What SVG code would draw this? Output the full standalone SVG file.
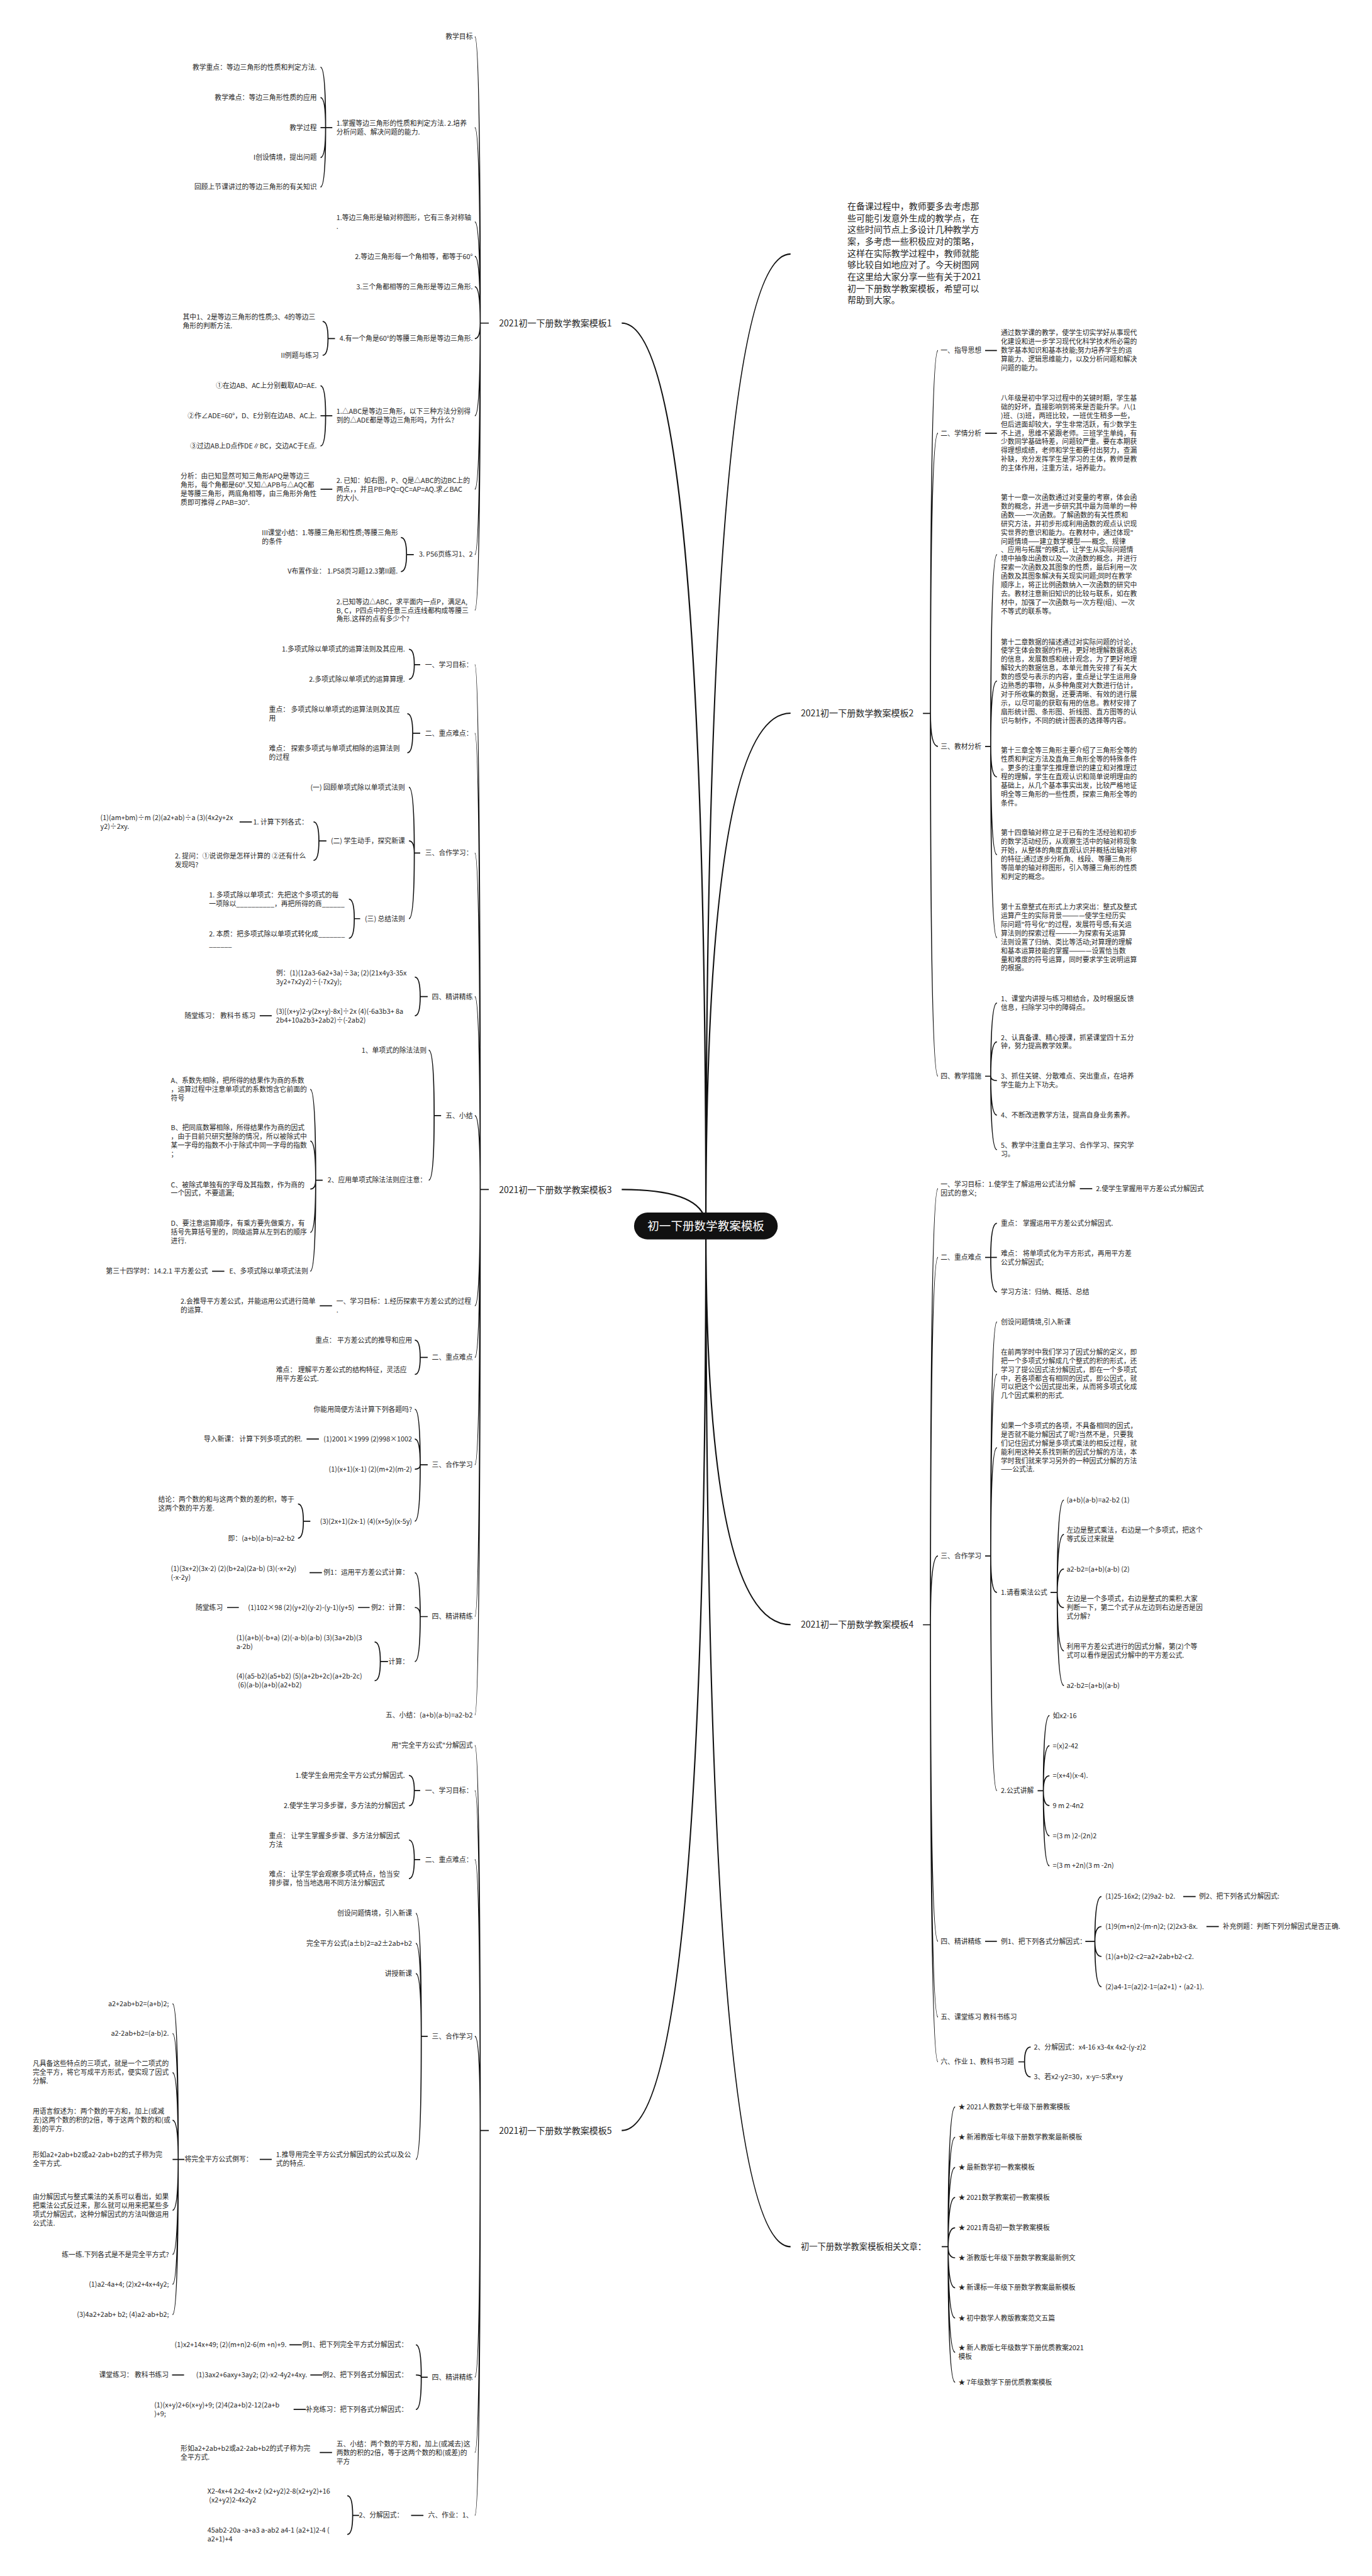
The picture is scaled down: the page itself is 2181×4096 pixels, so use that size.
<svg xmlns="http://www.w3.org/2000/svg" width="2181" height="4096" viewBox="0 0 2181 4096">
<style>
text{font-family:"Noto Sans CJK SC","Noto Sans",sans-serif;font-size:12.7px;fill:#262626}
.e{text-anchor:end}
.b{font-size:16.5px}
.i{font-size:16.4px}
.a{font-size:15.6px}
.c{font-size:21.8px;fill:#fff;text-anchor:middle}
#connectors path{fill:none;stroke:#111;stroke-width:2}
#connectors .r{stroke-width:2.6}
</style>
<rect width="2181" height="4096" fill="#fff"/>
<g transform="scale(0.852)">
<g id="connectors">
<path class="r" d="M1317 2288Q1317 474 1475 474M1317 2288Q1317 1331 1475 1331M1317 2288Q1317 3032 1475 3032M1317 2288Q1317 4193 1475 4193M1317 2288Q1317 603 1160 603M1317 2288Q1317 2220 1160 2220M1317 2288Q1317 3976 1160 3976"/>
<path d="M912 603H896M896 603Q896 68.5 886 68.5M896 603Q896 238 886 238M896 603Q896 414 886 414M896 603Q896 478.5 886 478.5M896 603Q896 535 886 535M896 603Q896 632 886 632M896 603Q896 776 886 776M896 603Q896 913 886 913M896 603Q896 1035 886 1035M896 603Q896 1139 886 1139"/>
<path d="M620 238H598M607.5 238Q607.5 125.5 598 125.5M607.5 238Q607.5 182 598 182M607.5 238Q607.5 294 598 294M607.5 238Q607.5 349 598 349"/>
<path d="M625 632H612M612 632Q612 600 602 600M612 632Q612 663 602 663"/>
<path d="M620 776H598M607.5 776Q607.5 720 598 720M607.5 776Q607.5 832.4 598 832.4"/>
<path d="M620 913H598"/>
<path d="M772 1035H758.5M758.5 1035Q758.5 1003 748 1003M758.5 1035Q758.5 1066.7 748 1066.7"/>
<path d="M912 2220H896M896 2220Q896 1240.4 886 1240.4M896 2220Q896 1368.5 886 1368.5M896 2220Q896 1592 886 1592M896 2220Q896 1860 886 1860M896 2220Q896 2082 886 2082M896 2220Q896 2437 886 2437M896 2220Q896 2533.4 886 2533.4M896 2220Q896 2733.7 886 2733.7M896 2220Q896 3017 886 3017M896 2220Q896 3200.7 886 3200.7"/>
<path d="M784 1240.4H773M773 1240.4Q773 1211.6 763 1211.6M773 1240.4Q773 1267.6 763 1267.6"/>
<path d="M784 1368.5H770M770 1368.5Q770 1332 760 1332M770 1368.5Q770 1404.8 760 1404.8"/>
<path d="M784 1592H773M773 1592Q773 1469.4 763 1469.4M773 1592Q773 1569.3 763 1569.3M773 1592Q773 1714.5 763 1714.5"/>
<path d="M609 1569.3H595M595 1569.3Q595 1534 585 1534M595 1569.3Q595 1605.7 585 1605.7"/>
<path d="M470 1534H447"/>
<path d="M672 1714.5H661M661 1714.5Q661 1678 651 1678M661 1714.5Q661 1751 651 1751"/>
<path d="M798 1860H784M784 1860Q784 1823.6 774 1823.6M784 1860Q784 1895.7 774 1895.7"/>
<path d="M507 1895.7H484.6"/>
<path d="M823 2082H810M810 2082Q810 1960 800 1960M810 2082Q810 2202.5 800 2202.5"/>
<path d="M602 2202.5H589M589 2202.5Q589 2033 579 2033M589 2202.5Q589 2129.5 579 2129.5M589 2202.5Q589 2219 579 2219M589 2202.5Q589 2300 579 2300M589 2202.5Q589 2372.5 579 2372.5"/>
<path d="M418.6 2372.5H395.7"/>
<path d="M619.5 2437H596.6"/>
<path d="M798 2533.4H784M784 2533.4Q784 2501 774 2501M784 2533.4Q784 2565 774 2565"/>
<path d="M798 2733.7H784M784 2733.7Q784 2630 774 2630M784 2733.7Q784 2685.6 774 2685.6M784 2733.7Q784 2742 774 2742M784 2733.7Q784 2839 774 2839"/>
<path d="M595 2685.6H572"/>
<path d="M579 2839H566M566 2839Q566 2806.7 556 2806.7M566 2839Q566 2870.7 556 2870.7"/>
<path d="M798 3017H784M784 3017Q784 2935 774 2935M784 3017Q784 3000 774 3000M784 3017Q784 3100.8 774 3100.8"/>
<path d="M600.6 2935H577.6M689.6 3000H668M445.6 3000H423.8"/>
<path d="M724 3100.8H709.6M709.6 3100.8Q709.6 3064.5 699 3064.5M709.6 3100.8Q709.6 3136.6 699 3136.6"/>
<path d="M912 3976H896M896 3976Q896 3257.5 886 3257.5M896 3976Q896 3341.7 886 3341.7M896 3976Q896 3470.4 886 3470.4M896 3976Q896 3800.4 886 3800.4M896 3976Q896 4436.5 886 4436.5M896 3976Q896 4577 886 4577M896 3976Q896 4694.3 886 4694.3"/>
<path d="M784 3341.7H773M773 3341.7Q773 3313.5 763 3313.5M773 3341.7Q773 3370 763 3370"/>
<path d="M784 3470.4H773M773 3470.4Q773 3434 763 3434M773 3470.4Q773 3506 763 3506"/>
<path d="M798 3800.4H786M786 3800.4Q786 3570.8 776 3570.8M786 3800.4Q786 3626.8 776 3626.8M786 3800.4Q786 3683.3 776 3683.3M786 3800.4Q786 4030 776 4030"/>
<path d="M507 4030H484.6"/>
<path d="M344 4030H322M332.5 4030Q332.5 3739.7 322 3739.7M332.5 4030Q332.5 3795.2 322 3795.2M332.5 4030Q332.5 3868 322 3868M332.5 4030Q332.5 3957 322 3957M332.5 4030Q332.5 4125 322 4125M332.5 4030Q332.5 4207.4 322 4207.4M332.5 4030Q332.5 4263 322 4263M332.5 4030Q332.5 4319.6 322 4319.6"/>
<path d="M798 4436.5H786M786 4436.5Q786 4376 776 4376M786 4436.5Q786 4432.4 776 4432.4M786 4436.5Q786 4496.7 776 4496.7"/>
<path d="M563 4376H540M601.7 4432.4H579M343.4 4432.4H321M570.7 4496.7H547.8M619.5 4577H596.6M790 4694.3H767"/>
<path d="M670 4694.3H658M658 4694.3Q658 4657.6 648 4657.6M658 4694.3Q658 4730 648 4730"/>
<path d="M1722 1331.4H1736M1736 1331.4Q1736 654.3 1750 654.3M1736 1331.4Q1736 808.5 1750 808.5M1736 1331.4Q1736 1393 1750 1393M1736 1331.4Q1736 2008.5 1750 2008.5"/>
<path d="M1838 654.3H1860M1838 808.5H1860"/>
<path d="M1838 1393H1848.5M1848.5 1393Q1848.5 1035 1860 1035M1848.5 1393Q1848.5 1271 1860 1271M1848.5 1393Q1848.5 1450 1860 1450M1848.5 1393Q1848.5 1595 1860 1595M1848.5 1393Q1848.5 1750 1860 1750"/>
<path d="M1838 2008.5H1848.5M1848.5 2008.5Q1848.5 1872 1860 1872M1848.5 2008.5Q1848.5 1944.5 1860 1944.5M1848.5 2008.5Q1848.5 2016.7 1860 2016.7M1848.5 2008.5Q1848.5 2081 1860 2081M1848.5 2008.5Q1848.5 2145.8 1860 2145.8"/>
<path d="M1722 3032.3H1736M1736 3032.3Q1736 2218.5 1750 2218.5M1736 3032.3Q1736 2346.8 1750 2346.8M1736 3032.3Q1736 2904 1750 2904M1736 3032.3Q1736 3623 1750 3623M1736 3032.3Q1736 3764.3 1750 3764.3M1736 3032.3Q1736 3848 1750 3848"/>
<path d="M2014.7 2218.5H2037.9"/>
<path d="M1838 2346.8H1860M1848.5 2346.8Q1848.5 2283 1860 2283M1848.5 2346.8Q1848.5 2411 1860 2411"/>
<path d="M1838 2904H1848.5M1848.5 2904Q1848.5 2467 1860 2467M1848.5 2904Q1848.5 2564.4 1860 2564.4M1848.5 2904Q1848.5 2701.8 1860 2701.8M1848.5 2904Q1848.5 2972 1860 2972M1848.5 2904Q1848.5 3342 1860 3342"/>
<path d="M1960 2972H1972.6M1972.6 2972Q1972.6 2799.6 1985 2799.6M1972.6 2972Q1972.6 2863.7 1985 2863.7M1972.6 2972Q1972.6 2928.2 1985 2928.2M1972.6 2972Q1972.6 3000.3 1985 3000.3M1972.6 2972Q1972.6 3081 1985 3081M1972.6 2972Q1972.6 3145.8 1985 3145.8"/>
<path d="M1936 3342H1946.7M1946.7 3342Q1946.7 3201.7 1958 3201.7M1946.7 3342Q1946.7 3258 1958 3258M1946.7 3342Q1946.7 3314 1958 3314M1946.7 3342Q1946.7 3369.6 1958 3369.6M1946.7 3342Q1946.7 3426 1958 3426M1946.7 3342Q1946.7 3482 1958 3482"/>
<path d="M1838 3623H1860"/>
<path d="M2025 3623H2042.8M2042.8 3623Q2042.8 3539.4 2055 3539.4M2042.8 3623Q2042.8 3595.4 2055 3595.4M2042.8 3623Q2042.8 3651.3 2055 3651.3M2042.8 3623Q2042.8 3707.8 2055 3707.8"/>
<path d="M2207.6 3539.4H2230.8M2251 3595.4H2274"/>
<path d="M1900 3848H1911.6M1911.6 3848Q1911.6 3820.3 1923 3820.3M1911.6 3848Q1911.6 3876.2 1923 3876.2"/>
<path d="M1757 4193H1769M1769 4193Q1769 3932 1782 3932M1769 4193Q1769 3988.7 1782 3988.7M1769 4193Q1769 4045 1782 4045M1769 4193Q1769 4101 1782 4101M1769 4193Q1769 4157.6 1782 4157.6M1769 4193Q1769 4213.6 1782 4213.6M1769 4193Q1769 4269.5 1782 4269.5M1769 4193Q1769 4326 1782 4326M1769 4193Q1769 4390 1782 4390M1769 4193Q1769 4446 1782 4446"/>
</g>

<g id="root"><rect x="1183" y="2263" width="268" height="50" rx="25" fill="#111"/><text class="c" x="1317" y="2296">初一下册数学教案模板</text></g>

<g id="intro"><text class="i" x="1581" y="391"><tspan x="1581">在备课过程中，教师要多去考虑那</tspan><tspan x="1581" dy="21.9">些可能引发意外生成的教学点，在</tspan><tspan x="1581" dy="21.9">这些时间节点上多设计几种教学方</tspan><tspan x="1581" dy="21.9">案，多考虑一些积极应对的策略，</tspan><tspan x="1581" dy="21.9">这样在实际教学过程中，教师就能</tspan><tspan x="1581" dy="21.9">够比较自如地应对了。今天树图网</tspan><tspan x="1581" dy="21.9">在这里给大家分享一些有关于2021</tspan><tspan x="1581" dy="21.9">初一下册数学教案模板，希望可以</tspan><tspan x="1581" dy="21.9">帮助到大家。</tspan></text></g>

<g id="t1"><text class="b" x="931" y="609">2021初一下册数学教案模板1</text></g>
<g id="t1-1"><text class="e" x="882" y="73">教学目标</text></g>
<g id="t1-2"><text x="627.6" y="234.5"><tspan x="627.6">1.掌握等边三角形的性质和判定方法. 2.培养</tspan><tspan x="627.6" dy="16.3">分析问题、解决问题的能力.</tspan></text></g>
<g id="t1-2a"><text class="e" x="591" y="130">教学重点：等边三角形的性质和判定方法.</text></g>
<g id="t1-2b"><text class="e" x="591" y="186.5">教学难点：等边三角形性质的应用</text></g>
<g id="t1-2c"><text class="e" x="591" y="242.5">教学过程</text></g>
<g id="t1-2d"><text class="e" x="591" y="298.5">I创设情境，提出问题</text></g>
<g id="t1-2e"><text class="e" x="591" y="353.5">回顾上节课讲过的等边三角形的有关知识</text></g>
<g id="t1-3"><text x="627.6" y="410.5"><tspan x="627.6">1.等边三角形是轴对称图形，它有三条对称轴</tspan><tspan x="627.6" dy="16.3">.</tspan></text></g>
<g id="t1-4"><text class="e" x="882" y="483">2.等边三角形每一个角相等，都等于60°</text></g>
<g id="t1-5"><text class="e" x="882" y="539.5">3.三个角都相等的三角形是等边三角形.</text></g>
<g id="t1-6"><text class="e" x="882" y="636.5">4.有一个角是60°的等腰三角形是等边三角形.</text></g>
<g id="t1-6a"><text x="341" y="596"><tspan x="341">其中1、2是等边三角形的性质;3、4的等边三</tspan><tspan x="341" dy="16.3">角形的判断方法.</tspan></text></g>
<g id="t1-6b"><text class="e" x="595" y="667.5">II例题与练习</text></g>
<g id="t1-7"><text x="627.6" y="772.5"><tspan x="627.6">1.△ABC是等边三角形，以下三种方法分别得</tspan><tspan x="627.6" dy="16.3">到的△ADE都是等边三角形吗，为什么?</tspan></text></g>
<g id="t1-7a"><text class="e" x="591" y="724.5">①在边AB、AC上分别截取AD=AE.</text></g>
<g id="t1-7b"><text class="e" x="591" y="780.5">②作∠ADE=60°，D、E分别在边AB、AC上.</text></g>
<g id="t1-7c"><text class="e" x="591" y="837">③过边AB上D点作DE∥BC，交边AC于E点.</text></g>
<g id="t1-8"><text x="627.6" y="901.3"><tspan x="627.6">2. 已知：如右图，P、Q是△ABC的边BC上的</tspan><tspan x="627.6" dy="16.3">两点，，并且PB=PQ=QC=AP=AQ.求∠BAC</tspan><tspan x="627.6" dy="16.3">的大小.</tspan></text></g>
<g id="t1-8a"><text x="337" y="893.5"><tspan x="337">分析：由已知显然可知三角形APQ是等边三</tspan><tspan x="337" dy="16.3">角形，每个角都是60°.又知△APB与△AQC都</tspan><tspan x="337" dy="16.3">是等腰三角形，两底角相等，由三角形外角性</tspan><tspan x="337" dy="16.3">质即可推得∠PAB=30°.</tspan></text></g>
<g id="t1-9"><text class="e" x="882" y="1039.3">3. P56页练习1、2</text></g>
<g id="t1-9a"><text x="488.7" y="999"><tspan x="488.7">III课堂小结：1.等腰三角形和性质;等腰三角形</tspan><tspan x="488.7" dy="16.3">的条件</tspan></text></g>
<g id="t1-9b"><text class="e" x="742" y="1071">V布置作业： 1.P58页习题12.3第II题.</text></g>
<g id="t1-10"><text x="627.6" y="1127.5"><tspan x="627.6">2.已知等边△ABC，求平面内一点P，满足A,</tspan><tspan x="627.6" dy="16.3">B, C，P四点中的任意三点连线都构成等腰三</tspan><tspan x="627.6" dy="16.3">角形.这样的点有多少个?</tspan></text></g>

<g id="t3"><text class="b" x="931" y="2226">2021初一下册数学教案模板3</text></g>
<g id="t3-1"><text class="e" x="882" y="1245">一、学习目标：</text></g>
<g id="t3-1a"><text class="e" x="755.6" y="1216">1.多项式除以单项式的运算法则及其应用.</text></g>
<g id="t3-1b"><text class="e" x="755.6" y="1272">2.多项式除以单项式的运算算理.</text></g>
<g id="t3-2"><text class="e" x="882" y="1373">二、重点难点：</text></g>
<g id="t3-2a"><text x="501.9" y="1328.5"><tspan x="501.9">重点： 多项式除以单项式的运算法则及其应</tspan><tspan x="501.9" dy="16.3">用</tspan></text></g>
<g id="t3-2b"><text x="501.9" y="1401.2"><tspan x="501.9">难点： 探索多项式与单项式相除的运算法则</tspan><tspan x="501.9" dy="16.3">的过程</tspan></text></g>
<g id="t3-3"><text class="e" x="882" y="1596.5">三、合作学习：</text></g>
<g id="t3-3a"><text class="e" x="755.6" y="1474">(一) 回顾单项式除以单项式法则</text></g>
<g id="t3-3b"><text class="e" x="755.6" y="1573.8">(二) 学生动手，探究新课</text></g>
<g id="t3-3b1"><text class="e" x="574.8" y="1538.5">1. 计算下列各式：</text></g>
<g id="t3-3b1a"><text x="187.3" y="1530.5"><tspan x="187.3">(1)(am+bm)÷m (2)(a2+ab)÷a (3)(4x2y+2x</tspan><tspan x="187.3" dy="16.3">y2)÷2xy.</tspan></text></g>
<g id="t3-3b2"><text x="326.2" y="1602.1"><tspan x="326.2">2. 提问：①说说你是怎样计算的 ②还有什么</tspan><tspan x="326.2" dy="16.3">发现吗?</tspan></text></g>
<g id="t3-3c"><text class="e" x="755.6" y="1719">(三) 总结法则</text></g>
<g id="t3-3c1"><text x="390" y="1674.5"><tspan x="390">1. 多项式除以单项式：先把这个多项式的每</tspan><tspan x="390" dy="16.3">一项除以__________，再把所得的商______</tspan></text></g>
<g id="t3-3c2"><text x="390" y="1747.3"><tspan x="390">2. 本质：把多项式除以单项式转化成_______</tspan><tspan x="390" dy="19">______</tspan></text></g>
<g id="t3-4"><text class="e" x="882" y="1864.5">四、精讲精练</text></g>
<g id="t3-4a"><text x="515" y="1820"><tspan x="515">例：(1)(12a3-6a2+3a)÷3a; (2)(21x4y3-35x</tspan><tspan x="515" dy="16.3">3y2+7x2y2)÷(-7x2y);</tspan></text></g>
<g id="t3-4b"><text x="515" y="1892.1"><tspan x="515">(3)[(x+y)2-y(2x+y)-8x]÷2x (4)(-6a3b3+ 8a</tspan><tspan x="515" dy="16.3">2b4+10a2b3+2ab2)÷(-2ab2)</tspan></text></g>
<g id="t3-4b1"><text class="e" x="477" y="1900.2">随堂练习： 教科书 练习</text></g>
<g id="t3-5"><text class="e" x="882" y="2086.5">五、小结</text></g>
<g id="t3-5a"><text class="e" x="795.8" y="1964.5">1、单项式的除法法则</text></g>
<g id="t3-5b"><text class="e" x="795.8" y="2207">2、应用单项式除法法则应注意：</text></g>
<g id="t3-5b1"><text x="318.8" y="2021.3"><tspan x="318.8">A、系数先相除，把所得的结果作为商的系数</tspan><tspan x="318.8" dy="16.3">，运算过程中注意单项式的系数饱含它前面的</tspan><tspan x="318.8" dy="16.3">符号</tspan></text></g>
<g id="t3-5b2"><text x="318.8" y="2109.5"><tspan x="318.8">B、把同底数幂相除，所得结果作为商的因式</tspan><tspan x="318.8" dy="16.3">，由于目前只研究整除的情况，所以被除式中</tspan><tspan x="318.8" dy="16.3">某一字母的指数不小于除式中同一字母的指数</tspan><tspan x="318.8" dy="16.3">；</tspan></text></g>
<g id="t3-5b3"><text x="318.8" y="2215.5"><tspan x="318.8">C、被除式单独有的字母及其指数，作为商的</tspan><tspan x="318.8" dy="16.3">一个因式，不要遗漏;</tspan></text></g>
<g id="t3-5b4"><text x="318.8" y="2288.1"><tspan x="318.8">D、要注意运算顺序，有乘方要先做乘方，有</tspan><tspan x="318.8" dy="16.3">括号先算括号里的，同级运算从左到右的顺序</tspan><tspan x="318.8" dy="16.3">进行.</tspan></text></g>
<g id="t3-5b5"><text class="e" x="574.8" y="2377">E、多项式除以单项式法则</text></g>
<g id="t3-5b5a"><text class="e" x="388" y="2377">第三十四学时：14.2.1 平方差公式</text></g>
<g id="t3-6"><text x="627.6" y="2433.3"><tspan x="627.6">一、学习目标：1.经历探索平方差公式的过程</tspan><tspan x="627.6" dy="16.3">.</tspan></text></g>
<g id="t3-6a"><text x="337" y="2433.3"><tspan x="337">2.会推导平方差公式，并能运用公式进行简单</tspan><tspan x="337" dy="16.3">的运算.</tspan></text></g>
<g id="t3-7"><text class="e" x="882" y="2538">二、重点难点</text></g>
<g id="t3-7a"><text class="e" x="768.8" y="2505.5">重点： 平方差公式的推导和应用</text></g>
<g id="t3-7b"><text x="515" y="2561.5"><tspan x="515">难点： 理解平方差公式的结构特征，灵活应</tspan><tspan x="515" dy="16.3">用平方差公式.</tspan></text></g>
<g id="t3-8"><text class="e" x="882" y="2738">三、合作学习</text></g>
<g id="t3-8a"><text class="e" x="768.8" y="2634.5">你能用简便方法计算下列各题吗?</text></g>
<g id="t3-8b"><text class="e" x="768.8" y="2690">(1)2001×1999 (2)998×1002</text></g>
<g id="t3-8b1"><text class="e" x="564.4" y="2690">导入新课： 计算下列多项式的积.</text></g>
<g id="t3-8c"><text class="e" x="768.8" y="2746.5">(1)(x+1)(x-1) (2)(m+2)(m-2)</text></g>
<g id="t3-8d"><text class="e" x="768.8" y="2843.5">(3)(2x+1)(2x-1) (4)(x+5y)(x-5y)</text></g>
<g id="t3-8d1"><text x="295.2" y="2803"><tspan x="295.2">结论：两个数的和与这两个数的差的积，等于</tspan><tspan x="295.2" dy="16.3">这两个数的平方差.</tspan></text></g>
<g id="t3-8d2"><text class="e" x="550" y="2875.2">即：(a+b)(a-b)=a2-b2</text></g>
<g id="t3-9"><text class="e" x="882" y="3021.5">四、精讲精练</text></g>
<g id="t3-9a"><text class="e" x="763" y="2939.5">例1：运用平方差公式计算：</text></g>
<g id="t3-9a1"><text x="318.8" y="2931.5"><tspan x="318.8">(1)(3x+2)(3x-2) (2)(b+2a)(2a-b) (3)(-x+2y)</tspan><tspan x="318.8" dy="16.3">(-x-2y)</tspan></text></g>
<g id="t3-9b"><text class="e" x="763" y="3004.5">例2：计算：</text></g>
<g id="t3-9b1"><text class="e" x="661" y="3004.5">(1)102×98 (2)(y+2)(y-2)-(y-1)(y+5)</text></g>
<g id="t3-9b2"><text class="e" x="415.8" y="3004.5">随堂练习</text></g>
<g id="t3-9c"><text class="e" x="763" y="3105.3">计算：</text></g>
<g id="t3-9c1"><text x="441" y="3060.9"><tspan x="441">(1)(a+b)(-b+a) (2)(-a-b)(a-b) (3)(3a+2b)(3</tspan><tspan x="441" dy="16.3">a-2b)</tspan></text></g>
<g id="t3-9c2"><text x="441" y="3133"><tspan x="441">(4)(a5-b2)(a5+b2) (5)(a+2b+2c)(a+2b-2c)</tspan><tspan x="444" dy="16.3">(6)(a-b)(a+b)(a2+b2)</tspan></text></g>
<g id="t3-10"><text class="e" x="882" y="3205.2">五、小结：(a+b)(a-b)=a2-b2</text></g>

<g id="t5"><text class="b" x="931" y="3982">2021初一下册数学教案模板5</text></g>
<g id="t5-1"><text class="e" x="882" y="3262">用"完全平方公式"分解因式</text></g>
<g id="t5-2"><text class="e" x="882" y="3346.2">一、学习目标：</text></g>
<g id="t5-2a"><text class="e" x="755.6" y="3318">1.使学生会用完全平方公式分解因式.</text></g>
<g id="t5-2b"><text class="e" x="755.6" y="3374.5">2.使学生学习多步骤，多方法的分解因式</text></g>
<g id="t5-3"><text class="e" x="882" y="3474.9">二、重点难点：</text></g>
<g id="t5-3a"><text x="501.9" y="3430.5"><tspan x="501.9">重点： 让学生掌握多步骤、多方法分解因式</tspan><tspan x="501.9" dy="16.3">方法</tspan></text></g>
<g id="t5-3b"><text x="501.9" y="3502.5"><tspan x="501.9">难点： 让学生学会观察多项式特点，恰当安</tspan><tspan x="501.9" dy="16.3">排步骤，恰当地选用不同方法分解因式</tspan></text></g>
<g id="t5-4"><text class="e" x="882" y="3804.9">三、合作学习</text></g>
<g id="t5-4a"><text class="e" x="768.8" y="3575.3">创设问题情境，引入新课</text></g>
<g id="t5-4b"><text class="e" x="768.8" y="3631.3">完全平方公式(a±b)2=a2±2ab+b2</text></g>
<g id="t5-4c"><text class="e" x="768.8" y="3687.8">讲授新课</text></g>
<g id="t5-4d"><text x="515" y="4026"><tspan x="515">1.推导用完全平方公式分解因式的公式以及公</tspan><tspan x="515" dy="16.3">式的特点.</tspan></text></g>
<g id="t5-4d1"><text class="e" x="471.4" y="4034.5">将完全平方公式倒写：</text></g>
<g id="t5-4d1a"><text class="e" x="315.3" y="3744.2">a2+2ab+b2=(a+b)2;</text></g>
<g id="t5-4d1b"><text class="e" x="315.3" y="3799.7">a2-2ab+b2=(a-b)2.</text></g>
<g id="t5-4d1c"><text x="61" y="3856.2"><tspan x="61">凡具备这些特点的三项式，就是一个二项式的</tspan><tspan x="61" dy="16.3">完全平方，将它写成平方形式，便实现了因式</tspan><tspan x="61" dy="16.3">分解.</tspan></text></g>
<g id="t5-4d1d"><text x="61" y="3945.2"><tspan x="61">用语言叙述为：两个数的平方和，加上(或减</tspan><tspan x="61" dy="16.3">去)这两个数的积的2倍，等于这两个数的和(或</tspan><tspan x="61" dy="16.3">差)的平方.</tspan></text></g>
<g id="t5-4d1e"><text x="61" y="4026"><tspan x="61">形如a2+2ab+b2或a2-2ab+b2的式子称为完</tspan><tspan x="61" dy="16.3">全平方式.</tspan></text></g>
<g id="t5-4d1f"><text x="61" y="4105"><tspan x="61">由分解因式与整式乘法的关系可以看出，如果</tspan><tspan x="61" dy="16.3">把乘法公式反过来，那么就可以用来把某些多</tspan><tspan x="61" dy="16.3">项式分解因式，这种分解因式的方法叫做运用</tspan><tspan x="61" dy="16.3">公式法.</tspan></text></g>
<g id="t5-4d1g"><text class="e" x="315.3" y="4211.9">练一练.下列各式是不是完全平方式?</text></g>
<g id="t5-4d1h"><text class="e" x="315.3" y="4267.5">(1)a2-4a+4; (2)x2+4x+4y2;</text></g>
<g id="t5-4d1i"><text class="e" x="315.3" y="4324">(3)4a2+2ab+ b2; (4)a2-ab+b2;</text></g>
<g id="t5-5"><text class="e" x="882" y="4441">四、精讲精练</text></g>
<g id="t5-5a"><text class="e" x="761" y="4380.5">例1、把下列完全平方式分解因式：</text></g>
<g id="t5-5a1"><text class="e" x="534.6" y="4380.5">(1)x2+14x+49; (2)(m+n)2-6(m +n)+9.</text></g>
<g id="t5-5b"><text class="e" x="761" y="4437">例2、把下列各式分解因式：</text></g>
<g id="t5-5b1"><text class="e" x="573" y="4437">(1)3ax2+6axy+3ay2; (2)-x2-4y2+4xy.</text></g>
<g id="t5-5b2"><text class="e" x="314.7" y="4437">课堂练习： 教科书练习</text></g>
<g id="t5-5c"><text class="e" x="761" y="4501.2">补充练习：把下列各式分解因式：</text></g>
<g id="t5-5c1"><text x="287.8" y="4493.5"><tspan x="287.8">(1)(x+y)2+6(x+y)+9; (2)4(2a+b)2-12(2a+b</tspan><tspan x="287.8" dy="16.3">)+9;</tspan></text></g>
<g id="t5-6"><text x="627.6" y="4565.5"><tspan x="627.6">五、小结：两个数的平方和，加上(或减去)这</tspan><tspan x="627.6" dy="16.3">两数的积的2倍，等于这两个数的和(或差)的</tspan><tspan x="627.6" dy="16.3">平方</tspan></text></g>
<g id="t5-6a"><text x="337" y="4573.5"><tspan x="337">形如a2+2ab+b2或a2-2ab+b2的式子称为完</tspan><tspan x="337" dy="16.3">全平方式.</tspan></text></g>
<g id="t5-7"><text class="e" x="882" y="4698.8">六、作业：1、</text></g>
<g id="t5-7a"><text class="e" x="752.7" y="4698.8">2、分解因式：</text></g>
<g id="t5-7a1"><text x="387" y="4654"><tspan x="387">X2-4x+4 2x2-4x+2 (x2+y2)2-8(x2+y2)+16</tspan><tspan x="390" dy="16.3">(x2+y2)2-4x2y2</tspan></text></g>
<g id="t5-7a2"><text x="387" y="4726.5"><tspan x="387">45ab2-20a -a+a3 a-ab2 a4-1 (a2+1)2-4 (</tspan><tspan x="387" dy="16.3">a2+1)+4</tspan></text></g>

<g id="t2"><text class="b" x="1494" y="1337.2">2021初一下册数学教案模板2</text></g>
<g id="t2-1"><text x="1755" y="658.8">一、指导思想</text></g>
<g id="t2-1a"><text x="1867.4" y="625.8"><tspan x="1867.4">通过数学课的教学，使学生切实学好从事现代</tspan><tspan x="1867.4" dy="16.3">化建设和进一步学习现代化科学技术所必需的</tspan><tspan x="1867.4" dy="16.3">数学基本知识和基本技能;努力培养学生的运</tspan><tspan x="1867.4" dy="16.3">算能力、逻辑思维能力，以及分析问题和解决</tspan><tspan x="1867.4" dy="16.3">问题的能力。</tspan></text></g>
<g id="t2-2"><text x="1755" y="813">二、学情分析</text></g>
<g id="t2-2a"><text x="1867.4" y="747.7"><tspan x="1867.4">八年级是初中学习过程中的关键时期，学生基</tspan><tspan x="1867.4" dy="16.3">础的好坏，直接影响到将来是否能升学。八(1</tspan><tspan x="1867.4" dy="16.3">)班、(3)班，两班比较，一班优生稍多一些，</tspan><tspan x="1867.4" dy="16.3">但后进面却较大，学生非常活跃，有少数学生</tspan><tspan x="1867.4" dy="16.3">不上进，思维不紧跟老师。三班学生单纯，有</tspan><tspan x="1867.4" dy="16.3">少数同学基础特差，问题较严重。要在本期获</tspan><tspan x="1867.4" dy="16.3">得理想成绩，老师和学生都要付出努力，查漏</tspan><tspan x="1867.4" dy="16.3">补缺，充分发挥学生是学习的主体，教师是教</tspan><tspan x="1867.4" dy="16.3">的主体作用，注重方法，培养能力。</tspan></text></g>
<g id="t2-3"><text x="1755" y="1397.5">三、教材分析</text></g>
<g id="t2-3a"><text x="1867.4" y="933.3"><tspan x="1867.4">第十一章一次函数通过对变量的考察，体会函</tspan><tspan x="1867.4" dy="16.3">数的概念，并进一步研究其中最为简单的一种</tspan><tspan x="1867.4" dy="16.3">函数——一次函数。了解函数的有关性质和</tspan><tspan x="1867.4" dy="16.3">研究方法，并初步形成利用函数的观点认识现</tspan><tspan x="1867.4" dy="16.3">实世界的意识和能力。在教材中，通过体现"</tspan><tspan x="1867.4" dy="16.3">问题情境——建立数学模型——概念、规律</tspan><tspan x="1867.4" dy="16.3">、应用与拓展"的模式，让学生从实际问题情</tspan><tspan x="1867.4" dy="16.3">境中抽象出函数以及一次函数的概念，并进行</tspan><tspan x="1867.4" dy="16.3">探索一次函数及其图象的性质，最后利用一次</tspan><tspan x="1867.4" dy="16.3">函数及其图象解决有关现实问题;同时在教学</tspan><tspan x="1867.4" dy="16.3">顺序上，将正比例函数纳入一次函数的研究中</tspan><tspan x="1867.4" dy="16.3">去。教材注意新旧知识的比较与联系，如在教</tspan><tspan x="1867.4" dy="16.3">材中，加强了一次函数与一次方程(组)、一次</tspan><tspan x="1867.4" dy="16.3">不等式的联系等。</tspan></text></g>
<g id="t2-3b"><text x="1867.4" y="1202.5"><tspan x="1867.4">第十二章数据的描述通过对实际问题的讨论，</tspan><tspan x="1867.4" dy="16.3">使学生体会数据的作用，更好地理解数据表达</tspan><tspan x="1867.4" dy="16.3">的信息，发展数感和统计观念，为了更好地理</tspan><tspan x="1867.4" dy="16.3">解较大的数据信息，本单元首先安排了有关大</tspan><tspan x="1867.4" dy="16.3">数的感受与表示的内容，重点是让学生运用身</tspan><tspan x="1867.4" dy="16.3">边熟悉的事物，从多种角度对大数进行估计，</tspan><tspan x="1867.4" dy="16.3">对于所收集的数据，还要清晰、有效的进行展</tspan><tspan x="1867.4" dy="16.3">示，以尽可能的获取有用的信息。教材安排了</tspan><tspan x="1867.4" dy="16.3">扇形统计图、条形图、折线图、直方图等的认</tspan><tspan x="1867.4" dy="16.3">识与制作，不同的统计图表的选择等内容。</tspan></text></g>
<g id="t2-3c"><text x="1867.4" y="1405.5"><tspan x="1867.4">第十三章全等三角形主要介绍了三角形全等的</tspan><tspan x="1867.4" dy="16.3">性质和判定方法及直角三角形全等的特殊条件</tspan><tspan x="1867.4" dy="16.3">。更多的注重学生推理意识的建立和对推理过</tspan><tspan x="1867.4" dy="16.3">程的理解，学生在直观认识和简单说明理由的</tspan><tspan x="1867.4" dy="16.3">基础上，从几个基本事实出发，比较严格地证</tspan><tspan x="1867.4" dy="16.3">明全等三角形的一些性质，探索三角形全等的</tspan><tspan x="1867.4" dy="16.3">条件。</tspan></text></g>
<g id="t2-3d"><text x="1867.4" y="1559.2"><tspan x="1867.4">第十四章轴对称立足于已有的生活经验和初步</tspan><tspan x="1867.4" dy="16.3">的数学活动经历，从观察生活中的轴对称现象</tspan><tspan x="1867.4" dy="16.3">开始，从整体的角度直观认识并概括出轴对称</tspan><tspan x="1867.4" dy="16.3">的特征;通过逐步分析角、线段、等腰三角形</tspan><tspan x="1867.4" dy="16.3">等简单的轴对称图形，引入等腰三角形的性质</tspan><tspan x="1867.4" dy="16.3">和判定的概念。</tspan></text></g>
<g id="t2-3e"><text x="1867.4" y="1697.5"><tspan x="1867.4">第十五章整式在形式上力求突出：整式及整式</tspan><tspan x="1867.4" dy="16.3">运算产生的实际背景————使学生经历实</tspan><tspan x="1867.4" dy="16.3">际问题"符号化"的过程，发展符号感;有关运</tspan><tspan x="1867.4" dy="16.3">算法则的探索过程————为探索有关运算</tspan><tspan x="1867.4" dy="16.3">法则设置了归纳、类比等活动;对算理的理解</tspan><tspan x="1867.4" dy="16.3">和基本运算技能的掌握————设置恰当数</tspan><tspan x="1867.4" dy="16.3">量和难度的符号运算，同时要求学生说明运算</tspan><tspan x="1867.4" dy="16.3">的根据。</tspan></text></g>
<g id="t2-4"><text x="1755" y="2013">四、教学措施</text></g>
<g id="t2-4a"><text x="1867.4" y="1868.3"><tspan x="1867.4">1、课堂内讲授与练习相结合，及时根据反馈</tspan><tspan x="1867.4" dy="16.3">信息，扫除学习中的障碍点。</tspan></text></g>
<g id="t2-4b"><text x="1867.4" y="1940.8"><tspan x="1867.4">2、认真备课、精心授课，抓紧课堂四十五分</tspan><tspan x="1867.4" dy="16.3">钟，努力提高教学效果。</tspan></text></g>
<g id="t2-4c"><text x="1867.4" y="2013"><tspan x="1867.4">3、抓住关键、分散难点、突出重点，在培养</tspan><tspan x="1867.4" dy="16.3">学生能力上下功夫。</tspan></text></g>
<g id="t2-4d"><text x="1867.4" y="2085.5">4、不断改进教学方法，提高自身业务素养。</text></g>
<g id="t2-4e"><text x="1867.4" y="2142.1"><tspan x="1867.4">5、教学中注重自主学习、合作学习、探究学</tspan><tspan x="1867.4" dy="16.3">习。</tspan></text></g>

<g id="t4"><text class="b" x="1494" y="3038.1">2021初一下册数学教案模板4</text></g>
<g id="t4-1"><text x="1755" y="2214.8"><tspan x="1755">一、学习目标：1.使学生了解运用公式法分解</tspan><tspan x="1755" dy="16.3">因式的意义;</tspan></text></g>
<g id="t4-1a"><text x="2044.9" y="2223">2.使学生掌握用平方差公式分解因式</text></g>
<g id="t4-2"><text x="1755" y="2351.3">二、重点难点</text></g>
<g id="t4-2a"><text x="1867.4" y="2287.5">重点： 掌握运用平方差公式分解因式.</text></g>
<g id="t4-2b"><text x="1867.4" y="2344"><tspan x="1867.4">难点： 将单项式化为平方形式，再用平方差</tspan><tspan x="1867.4" dy="16.3">公式分解因式;</tspan></text></g>
<g id="t4-2c"><text x="1867.4" y="2415.5">学习方法：归纳、概括、总结</text></g>
<g id="t4-3"><text x="1755" y="2908.5">三、合作学习</text></g>
<g id="t4-3a"><text x="1867.4" y="2471.5">创设问题情境,引入新课</text></g>
<g id="t4-3b"><text x="1867.4" y="2528.1"><tspan x="1867.4">在前两学时中我们学习了因式分解的定义，即</tspan><tspan x="1867.4" dy="16.3">把一个多项式分解成几个整式的积的形式，还</tspan><tspan x="1867.4" dy="16.3">学习了提公因式法分解因式，即在一个多项式</tspan><tspan x="1867.4" dy="16.3">中，若各项都含有相同的因式，即公因式，就</tspan><tspan x="1867.4" dy="16.3">可以把这个公因式提出来，从而将多项式化成</tspan><tspan x="1867.4" dy="16.3">几个因式乘积的形式.</tspan></text></g>
<g id="t4-3c"><text x="1867.4" y="2665.5"><tspan x="1867.4">如果一个多项式的各项，不具备相同的因式，</tspan><tspan x="1867.4" dy="16.3">是否就不能分解因式了呢?当然不是，只要我</tspan><tspan x="1867.4" dy="16.3">们记住因式分解是多项式乘法的相反过程，就</tspan><tspan x="1867.4" dy="16.3">能利用这种关系找到新的因式分解的方法，本</tspan><tspan x="1867.4" dy="16.3">学时我们就来学习另外的一种因式分解的方法</tspan><tspan x="1867.4" dy="16.3">——公式法.</tspan></text></g>
<g id="t4-3d"><text x="1867.4" y="2976.5">1.请看乘法公式</text></g>
<g id="t4-3d1"><text x="1990" y="2804.1">(a+b)(a-b)=a2-b2 (1)</text></g>
<g id="t4-3d2"><text x="1990" y="2860"><tspan x="1990">左边是整式乘法，右边是一个多项式，把这个</tspan><tspan x="1990" dy="16.3">等式反过来就是</tspan></text></g>
<g id="t4-3d3"><text x="1990" y="2932.7">a2-b2=(a+b)(a-b) (2)</text></g>
<g id="t4-3d4"><text x="1990" y="2988.5"><tspan x="1990">左边是一个多项式，右边是整式的乘积.大家</tspan><tspan x="1990" dy="16.3">判断一下，第二个式子从左边到右边是否是因</tspan><tspan x="1990" dy="16.3">式分解?</tspan></text></g>
<g id="t4-3d5"><text x="1990" y="3077.5"><tspan x="1990">利用平方差公式进行的因式分解，第(2)个等</tspan><tspan x="1990" dy="16.3">式可以看作是因式分解中的平方差公式.</tspan></text></g>
<g id="t4-3d6"><text x="1990" y="3150.3">a2-b2=(a+b)(a-b)</text></g>
<g id="t4-3e"><text x="1867.4" y="3346.5">2.公式讲解</text></g>
<g id="t4-3e1"><text x="1964.2" y="3206.2">如x2-16</text></g>
<g id="t4-3e2"><text x="1964.2" y="3262.5">=(x)2-42</text></g>
<g id="t4-3e3"><text x="1964.2" y="3318.5">=(x+4)(x-4).</text></g>
<g id="t4-3e4"><text x="1964.2" y="3374.1">9 m 2-4n2</text></g>
<g id="t4-3e5"><text x="1964.2" y="3430.5">=(3 m )2-(2n)2</text></g>
<g id="t4-3e6"><text x="1964.2" y="3486.5">=(3 m +2n)(3 m -2n)</text></g>
<g id="t4-4"><text x="1755" y="3627.5">四、精讲精练</text></g>
<g id="t4-4a"><text x="1867.4" y="3627.5">例1、把下列各式分解因式：</text></g>
<g id="t4-4a1"><text x="2062.4" y="3543.9">(1)25-16x2; (2)9a2- b2.</text></g>
<g id="t4-4a1a"><text x="2237" y="3543.9">例2、把下列各式分解因式:</text></g>
<g id="t4-4a2"><text x="2062.4" y="3599.9">(1)9(m+n)2-(m-n)2; (2)2x3-8x.</text></g>
<g id="t4-4a2a"><text x="2281.3" y="3599.9">补充例题：判断下列分解因式是否正确.</text></g>
<g id="t4-4a3"><text x="2062.4" y="3655.8">(1)(a+b)2-c2=a2+2ab+b2-c2.</text></g>
<g id="t4-4a4"><text x="2062.4" y="3712.3">(2)a4-1=(a2)2-1=(a2+1)•(a2-1).</text></g>
<g id="t4-5"><text x="1755" y="3768.8">五、课堂练习 教科书练习</text></g>
<g id="t4-6"><text x="1755" y="3852.5">六、作业 1、教科书习题</text></g>
<g id="t4-6a"><text x="1929" y="3824.8">2、分解因式：x4-16 x3-4x 4x2-(y-z)2</text></g>
<g id="t4-6b"><text x="1929" y="3880.7">3、若x2-y2=30，x-y=-5求x+y</text></g>

<g id="rel"><text class="a" x="1494" y="4198.5">初一下册数学教案模板相关文章：</text></g>
<g id="rel-1"><text x="1788" y="3936.5">★ 2021人教数学七年级下册教案模板</text></g>
<g id="rel-2"><text x="1788" y="3993.2">★ 新湘教版七年级下册数学教案最新模板</text></g>
<g id="rel-3"><text x="1788" y="4049.5">★ 最新数学初一教案模板</text></g>
<g id="rel-4"><text x="1788" y="4105.5">★ 2021数学教案初一教案模板</text></g>
<g id="rel-5"><text x="1788" y="4162.1">★ 2021青岛初一数学教案模板</text></g>
<g id="rel-6"><text x="1788" y="4218.1">★ 浙教版七年级下册数学教案最新例文</text></g>
<g id="rel-7"><text x="1788" y="4274">★ 新课标一年级下册数学教案最新模板</text></g>
<g id="rel-8"><text x="1788" y="4330.5">★ 初中数学人教版教案范文五篇</text></g>
<g id="rel-9"><text x="1788" y="4386.3"><tspan x="1788">★ 新人教版七年级数学下册优质教案2021</tspan><tspan x="1788" dy="16.3">模板</tspan></text></g>
<g id="rel-10"><text x="1788" y="4450.5">★ 7年级数学下册优质教案模板</text></g>
</g>
</svg>
